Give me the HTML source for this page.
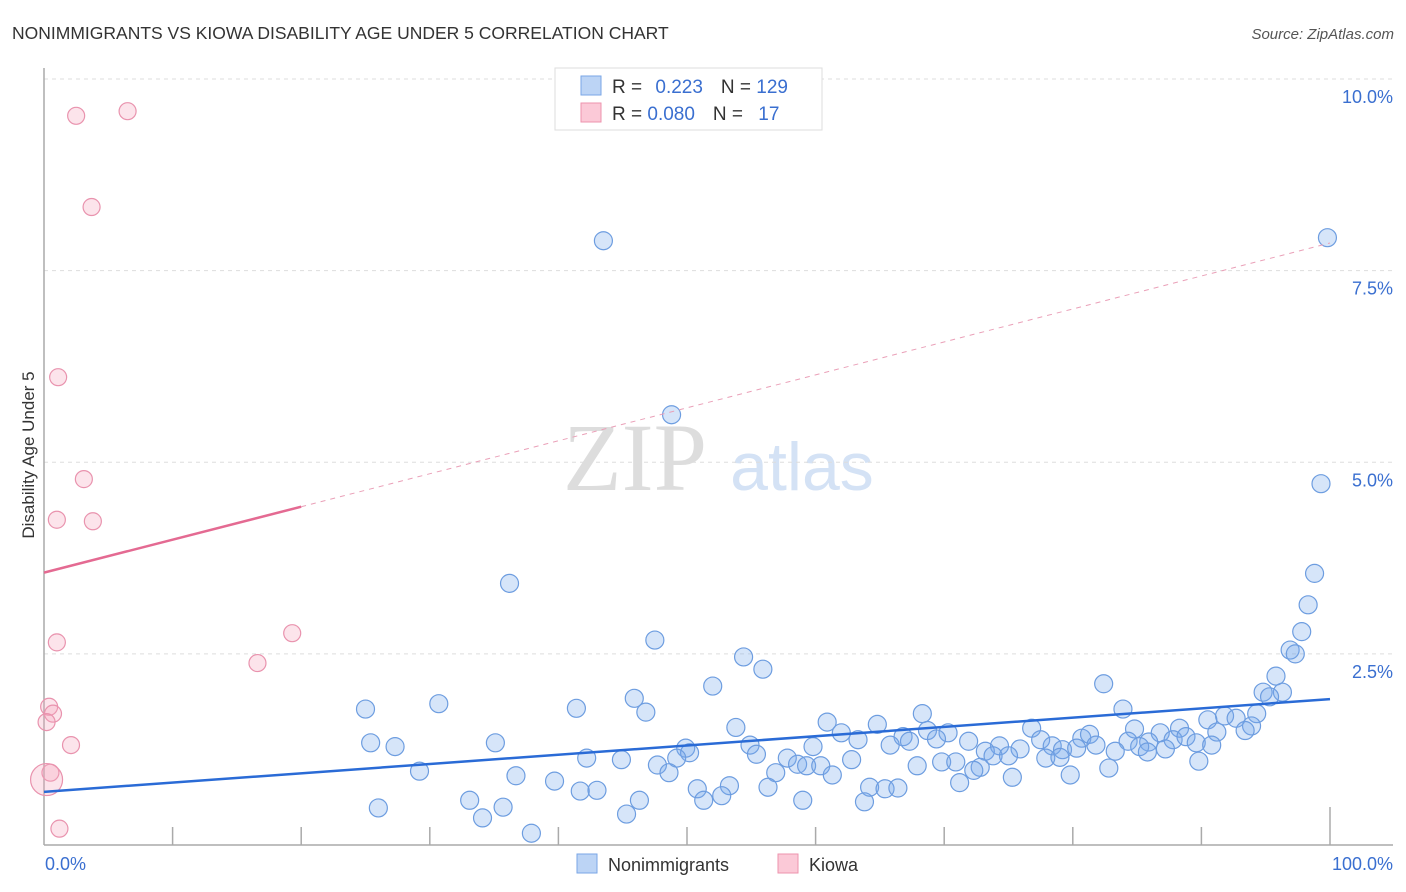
<!DOCTYPE html>
<html><head><meta charset="utf-8"><style>
body{margin:0;background:#fff;font-family:"Liberation Sans",sans-serif;}
</style></head><body>
<svg id="chart" width="1406" height="892" xmlns="http://www.w3.org/2000/svg" style="display:block">
<text x="12" y="39" font-size="17.5" fill="#333">NONIMMIGRANTS VS KIOWA DISABILITY AGE UNDER 5 CORRELATION CHART</text>
<text x="1394" y="39" font-size="15" fill="#555" font-style="italic" text-anchor="end">Source: ZipAtlas.com</text>
<text x="635" y="490" font-size="96" fill="#ddd" font-family="Liberation Serif,serif" text-anchor="middle">ZIP</text>
<text x="802" y="490" font-size="68" fill="#d4e2f5" text-anchor="middle">atlas</text>
<g id="grid"></g><g id="axes"></g><g id="marks"></g><g id="trend"></g>
<text transform="translate(34,455) rotate(-90)" font-size="17" fill="#333" text-anchor="middle">Disability Age Under 5</text>
<g>
<rect x="555" y="68" width="267" height="62" fill="#fff" stroke="#ddd"/>
<rect x="581" y="76" width="20" height="19" fill="#bcd4f5" stroke="#7aa6e6"/>
<rect x="581" y="103" width="20" height="19" fill="#fbc9d7" stroke="#ee93ae"/>
<text x="612" y="93" font-size="19" fill="#333">R = <tspan fill="#3a6fd0" dx="8">0.223</tspan><tspan dx="18">N = </tspan><tspan fill="#3a6fd0">129</tspan></text>
<text x="612" y="120" font-size="19" fill="#333">R = <tspan fill="#3a6fd0">0.080</tspan><tspan dx="18">N = </tspan><tspan fill="#3a6fd0" dx="10">17</tspan></text>
</g>
<g>
<rect x="577" y="854" width="20" height="19" fill="#bcd4f5" stroke="#7aa6e6"/>
<text x="608" y="871" font-size="18" fill="#333">Nonimmigrants</text>
<rect x="778" y="854" width="20" height="19" fill="#fbc9d7" stroke="#ee93ae"/>
<text x="809" y="871" font-size="18" fill="#333">Kiowa</text>
</g>
</svg>
<script>
const blueX=[43.5,99.8,48.8,99.3,36.2,98.8,98.3,97.8,96.9,97.3,47.5,54.4,55.9,95.8,52.0,82.4,94.8,96.3,95.3,25.0,30.7,41.4,45.9,46.8,83.9,94.3,68.3,91.8,92.7,90.5,60.9,64.8,53.8,68.7,76.8,84.8,88.3,93.9,93.4,62.0,70.3,86.8,91.2,66.8,63.3,69.4,77.5,80.7,81.3,84.3,85.9,87.8,88.8,89.6,67.3,25.4,27.3,35.1,54.9,65.8,71.9,74.3,75.9,78.4,79.2,80.3,81.8,85.2,87.2,90.8,49.9,59.8,50.2,73.2,83.3,85.8,73.8,75.0,77.9,79.0,55.4,49.2,44.9,42.2,57.8,62.8,89.8,47.7,58.6,59.3,60.4,69.8,70.9,67.9,72.8,82.8,29.2,48.6,56.9,61.3,72.3,79.8,75.3,36.7,39.7,71.2,53.3,56.3,64.2,65.4,66.4,41.7,43.0,50.8,52.7,51.3,59.0,63.8,46.3,33.1,26.0,35.7,45.3,34.1,37.9];
const blueY=[7.89,7.93,5.62,4.72,3.42,3.55,3.14,2.79,2.55,2.50,2.68,2.46,2.30,2.21,2.08,2.11,2.00,2.00,1.94,1.78,1.85,1.79,1.92,1.74,1.78,1.72,1.72,1.69,1.66,1.64,1.61,1.58,1.54,1.50,1.53,1.52,1.53,1.56,1.50,1.47,1.47,1.47,1.48,1.42,1.38,1.39,1.38,1.40,1.45,1.36,1.35,1.38,1.42,1.34,1.36,1.34,1.29,1.34,1.31,1.31,1.36,1.30,1.26,1.30,1.25,1.27,1.31,1.29,1.26,1.31,1.27,1.29,1.21,1.23,1.23,1.22,1.17,1.17,1.14,1.15,1.19,1.14,1.12,1.14,1.14,1.12,1.10,1.05,1.06,1.04,1.04,1.09,1.09,1.04,1.02,1.01,0.97,0.95,0.95,0.92,0.98,0.92,0.89,0.91,0.84,0.82,0.78,0.76,0.76,0.74,0.75,0.71,0.72,0.74,0.65,0.59,0.59,0.57,0.59,0.59,0.49,0.50,0.41,0.36,0.16];
const pinkX=[2.5,6.5,3.7,1.1,3.1,1.0,3.8,19.3,1.0,16.6,0.4,0.7,0.2,2.1,0.5,0.2,1.2];
const pinkY=[9.52,9.58,8.33,6.11,4.78,4.25,4.23,2.77,2.65,2.38,1.81,1.72,1.61,1.31,0.95,0.86,0.22];
const pinkR=[8.5,8.5,8.5,8.5,8.5,8.5,8.5,8.5,8.5,8.5,8.5,8.5,8.5,8.5,8.5,16,8.5];
const yTicks=[2.5,5.0,7.5,10.0];
const yTickLabels=["2.5%","5.0%","7.5%","10.0%"];
const xTickLabels=["0.0%","100.0%"];
const blueTrend=[0.70,1.91];
const pinkTrend=[3.56,7.86];
const pinkSolidEnd=20;
const NS="http://www.w3.org/2000/svg";
const xs=v=>44+v*12.86, ys=v=>845.5-v*76.65;
function mk(tag,attrs,parent){const e=document.createElementNS(NS,tag);for(const k in attrs)e.setAttribute(k,attrs[k]);document.getElementById(parent).appendChild(e);return e;}
yTicks.forEach((t,i)=>{
 const l=mk('line',{x1:44,x2:1393,y1:ys(t),y2:ys(t),stroke:'#ddd','stroke-dasharray':'4,4'},'grid');
 
 
 const tx=mk('text',{x:1393,y:ys(t)+24,'font-size':18,fill:'#3a6fd0','text-anchor':'end'},'grid');
 tx.textContent=yTickLabels[i];
 
 
});
let a=mk('line',{x1:44,x2:44,y1:68,y2:845,stroke:'#aaa','stroke-width':1.5},'axes');


a=mk('line',{x1:44,x2:1393,y1:845,y2:845,stroke:'#aaa','stroke-width':1.5},'axes');


for(let i=1;i<=10;i++){const t=mk('line',{x1:xs(i*10),x2:xs(i*10),y1:i==10?807:827,y2:845,stroke:'#aaa','stroke-width':1.5},'axes');
 
 }
xTickLabels.forEach((s,i)=>{const t=mk('text',{x:i?1393:45,y:870,'font-size':18,fill:'#3a6fd0','text-anchor':i?'end':'start'},'axes');t.textContent=s;
 
 });
blueX.forEach((x,i)=>{const c=mk('circle',{cx:xs(x),cy:ys(blueY[i]),r:9,fill:'rgba(120,170,235,0.3)',stroke:'#6d9de0','stroke-width':1.2},'marks');
 
 });
pinkX.forEach((x,i)=>{const c=mk('circle',{cx:xs(x),cy:ys(pinkY[i]),r:pinkR[i],fill:'rgba(245,165,190,0.3)',stroke:'#e993ae','stroke-width':1.2},'marks');
 
 });
const pv=x=>pinkTrend[0]+(pinkTrend[1]-pinkTrend[0])*x/100;
let tl=mk('line',{x1:xs(0),y1:ys(blueTrend[0]),x2:xs(100),y2:ys(blueTrend[1]),stroke:'#2a6bd6','stroke-width':2.5},'trend');


tl=mk('line',{x1:xs(0),y1:ys(pv(0)),x2:xs(pinkSolidEnd),y2:ys(pv(pinkSolidEnd)),stroke:'#e46a92','stroke-width':2.5},'trend');


tl=mk('line',{x1:xs(pinkSolidEnd),y1:ys(pv(pinkSolidEnd)),x2:xs(100),y2:ys(pv(100)),stroke:'#eaa0b8','stroke-width':1,'stroke-dasharray':'5,5'},'trend');


</script>
</body></html>
